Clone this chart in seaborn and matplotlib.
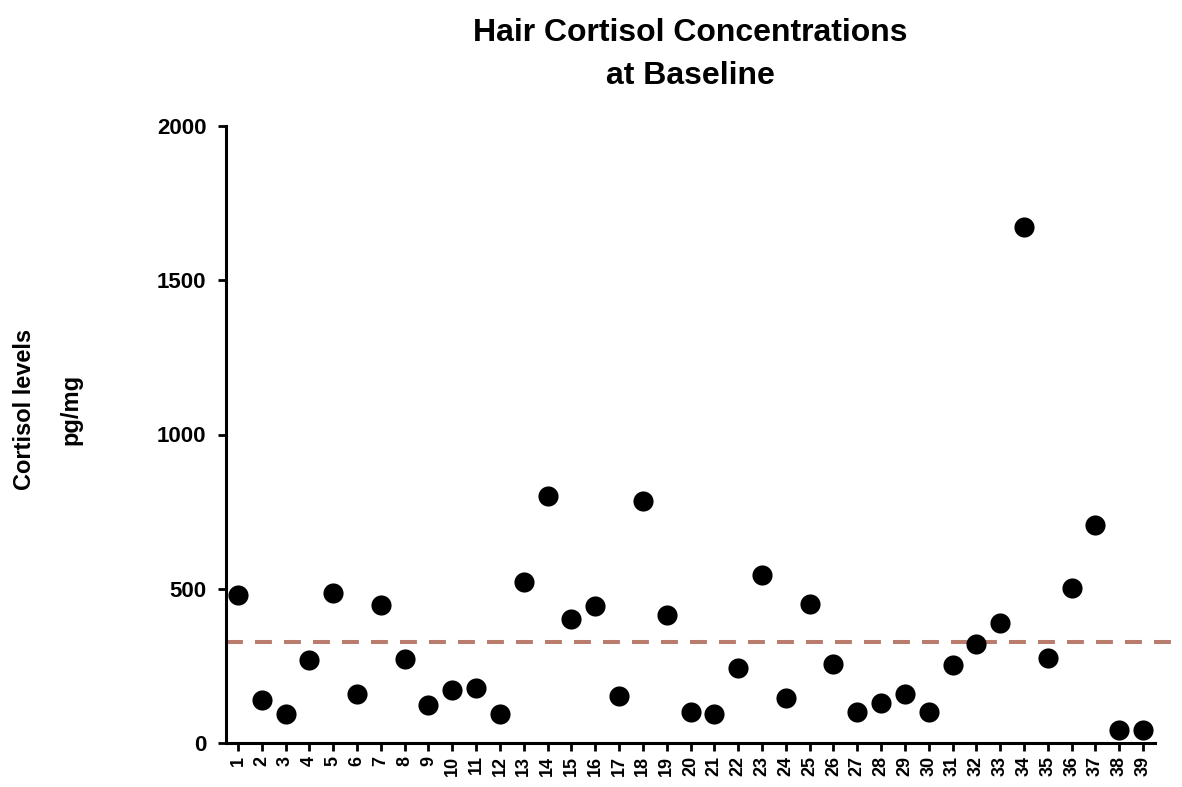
import numpy as np
import pandas as pd
import matplotlib
matplotlib.use("Agg")
import matplotlib.pyplot as plt
import seaborn as sns

# ---- data ----
subjects = list(range(1, 40))
cortisol = [480, 139, 94, 269, 485, 158, 447, 271, 122, 172,
            177, 94, 521, 801, 402, 445, 152, 784, 414, 100,
            95, 244, 543, 145, 449, 256, 100, 129, 159, 102,
            252, 321, 390, 1674, 276, 504, 708, 43, 43]
reference_level = 327
y_ticks = [0, 500, 1000, 1500, 2000]
title = "Hair Cortisol Concentrations\nat Baseline"
y_label = "Cortisol levels\npg/mg"

df = pd.DataFrame({"subject": subjects, "cortisol": cortisol})

sns.set_theme(style="ticks")
plt.rcParams["font.family"] = ["Liberation Sans", "DejaVu Sans"]
plt.rcParams["font.weight"] = "bold"
plt.rcParams["text.color"] = "black"
plt.rcParams["axes.labelcolor"] = "black"
plt.rcParams["xtick.color"] = "black"
plt.rcParams["ytick.color"] = "black"

W, H = 1182, 787
fig = plt.figure(figsize=(W / 100, H / 100), dpi=100)
ax = fig.add_axes([226 / W, 44 / H, 929 / W, 617 / H])

sns.scatterplot(data=df, x="subject", y="cortisol", ax=ax, color="black",
                s=210, linewidth=0, zorder=3, clip_on=False)

ax.plot([0.5, 40.26], [reference_level, reference_level], color="#b97c6d",
        lw=2.9, dashes=(4.2, 3.0), clip_on=False, zorder=2)

ax.set_xlim(0.5, 39.5)
ax.set_ylim(0, 2000)
ax.set_xticks(subjects)
ax.set_xticklabels([str(s) for s in subjects], rotation=90, fontsize=13,
                   fontweight="bold", color="black")
ax.set_yticks(y_ticks)
ax.set_yticklabels([str(t) for t in y_ticks], fontsize=16, fontweight="bold",
                   color="black")

for side in ["top", "right"]:
    ax.spines[side].set_visible(False)
for side in ["left", "bottom"]:
    ax.spines[side].set_linewidth(2.2)
    ax.spines[side].set_color("black")

ax.tick_params(axis="x", direction="out", length=6, width=2.0, pad=3,
               colors="black")
ax.tick_params(axis="y", direction="out", length=6, width=2.0, pad=8,
               colors="black")

ax.set_xlabel("")
ax.set_ylabel(y_label, fontsize=17, fontweight="bold", linespacing=2.3,
              color="black")
ax.yaxis.set_label_coords(-0.155, 0.54)

ax.set_title(title, fontsize=23, fontweight="bold", linespacing=1.6, pad=30,
             color="black")

fig.savefig("out.png", dpi=100, facecolor="white")
